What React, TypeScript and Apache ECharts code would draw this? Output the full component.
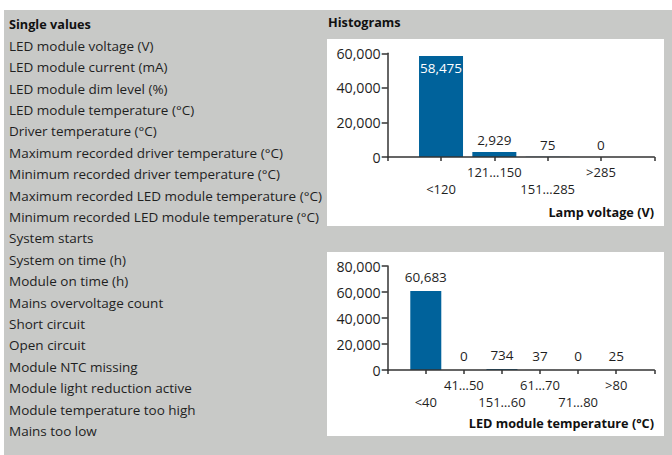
import React, { useEffect, useRef } from "react";
import * as echarts from "echarts";

const singleValueItems = [
  "LED module voltage (V)",
  "LED module current (mA)",
  "LED module dim level (%)",
  "LED module temperature (°C)",
  "Driver temperature (°C)",
  "Maximum recorded driver temperature (°C)",
  "Minimum recorded driver temperature (°C)",
  "Maximum recorded LED module temperature (°C)",
  "Minimum recorded LED module temperature (°C)",
  "System starts",
  "System on time (h)",
  "Module on time (h)",
  "Mains overvoltage count",
  "Short circuit",
  "Open circuit",
  "Module NTC missing",
  "Module light reduction active",
  "Module temperature too high",
  "Mains too low",
];

const voltageCategories = ["", "<120", "121…150", "151…285", ">285", ""];
const voltageValues: (number | string)[] = ["-", 58475, 2929, 75, 0, "-"];
const voltageTicks = [0, 20000, 40000, 60000];

const tempCategories = ["", "<40", "41…50", "151…60", "61…70", "71…80", ">80", ""];
const tempValues: (number | string)[] = ["-", 60683, 0, 734, 37, 0, 25, "-"];
const tempTicks = [0, 20000, 40000, 60000, 80000];

const FONT = "Open Sans";
const TEXT = "#1f1f1f";
const BLUE = "#00629b";
const AXIS = "#333333";

const fmt = (v: number) => Number(v).toLocaleString("en-US");

function makeXAxis(cats: string[], gridIndex: number) {
  return {
    type: "category",
    gridIndex,
    data: cats,
    boundaryGap: false,
    z: 5,
    axisLine: { show: true, lineStyle: { color: AXIS, width: 1.5 } },
    axisTick: { show: true, length: 4, interval: 0, lineStyle: { color: AXIS, width: 1.5 } },
    axisLabel: {
      interval: 0,
      margin: 7,
      fontFamily: FONT,
      fontSize: 13,
      color: TEXT,
      lineHeight: 16.8,
      formatter: (v: string, i: number) => (i % 2 === 1 ? "\n" + v : v),
    },
    splitLine: { show: false },
  };
}

function makeYAxis(ticks: number[], gridIndex: number) {
  return {
    type: "value",
    gridIndex,
    min: ticks[0],
    max: ticks[ticks.length - 1],
    interval: ticks[1] - ticks[0],
    z: 5,
    axisLine: { show: true, lineStyle: { color: AXIS, width: 1.5 } },
    axisTick: { show: true, length: 6, lineStyle: { color: AXIS, width: 1.5 } },
    axisLabel: { margin: 7, fontFamily: FONT, fontSize: 14.2, color: TEXT, formatter: (v: number) => fmt(v) },
    splitLine: { show: false },
  };
}

export default function App() {
  const ref = useRef<HTMLDivElement>(null);
  useEffect(() => {
    document.body.style.margin = "0";
    if (!ref.current) return;
    const chart = echarts.init(ref.current, undefined, { renderer: "svg" });

    const listTexts = singleValueItems.map((t, i) => ({
      type: "text",
      z: 10,
      style: {
        text: t,
        x: 9,
        y: 45.8 + i * 21.4,
        fill: TEXT,
        font: `13.5px "${FONT}"`,
        verticalAlign: "middle",
        align: "left",
      },
    }));

    const bold = `bold 12.7px "${FONT}"`;

    chart.setOption({
      animation: false,
      graphic: {
        z: -10,
        elements: [
          { type: "rect", z: -10, shape: { x: 4, y: 10, width: 668, height: 445 }, style: { fill: "#c8c9c7" } },
          { type: "rect", z: -9, shape: { x: 327, y: 39, width: 337, height: 187 }, style: { fill: "#ffffff" } },
          { type: "rect", z: -9, shape: { x: 327, y: 252, width: 337, height: 184 }, style: { fill: "#ffffff" } },
          {
            type: "text",
            z: 10,
            style: { text: "Single values", x: 9, y: 24, fill: "#111", font: bold, verticalAlign: "middle" },
          },
          {
            type: "text",
            z: 10,
            style: { text: "Histograms", x: 328, y: 22, fill: "#111", font: bold, verticalAlign: "middle" },
          },
          {
            type: "text",
            z: 10,
            style: { text: "Lamp voltage (V)", x: 654, y: 211.5, fill: "#111", font: bold, verticalAlign: "middle", align: "right" },
          },
          {
            type: "text",
            z: 10,
            style: { text: "LED module temperature (°C)", x: 654, y: 423, fill: "#111", font: bold, verticalAlign: "middle", align: "right" },
          },
          ...listTexts,
        ],
      },
      grid: [
        { left: 387.7, right: 17.7, top: 53.3, height: 103.7 },
        { left: 387.7, right: 17.7, top: 266, height: 104 },
      ],
      xAxis: [makeXAxis(voltageCategories, 0), makeXAxis(tempCategories, 1)],
      yAxis: [makeYAxis(voltageTicks, 0), makeYAxis(tempTicks, 1)],
      series: [
        {
          type: "bar",
          xAxisIndex: 0,
          yAxisIndex: 0,
          barWidth: 44,
          itemStyle: { color: BLUE },
          label: {
            show: true,
            position: "top",
            distance: 5,
            fontFamily: FONT,
            fontSize: 13.5,
            color: TEXT,
            formatter: (p: any) => fmt(p.value),
          },
          data: voltageValues.map((v, i) =>
            i === 1 ? { value: v, label: { position: "insideTop", color: "#ffffff", distance: 5 } } : v
          ),
        },
        {
          type: "bar",
          xAxisIndex: 1,
          yAxisIndex: 1,
          barWidth: 31,
          itemStyle: { color: BLUE },
          label: {
            show: true,
            position: "top",
            distance: 7,
            fontFamily: FONT,
            fontSize: 13.5,
            color: TEXT,
            formatter: (p: any) => fmt(p.value),
          },
          data: tempValues,
        },
      ],
    });
    return () => chart.dispose();
  }, []);
  return <div ref={ref} style={{ width: 672, height: 455 }} />;
}
